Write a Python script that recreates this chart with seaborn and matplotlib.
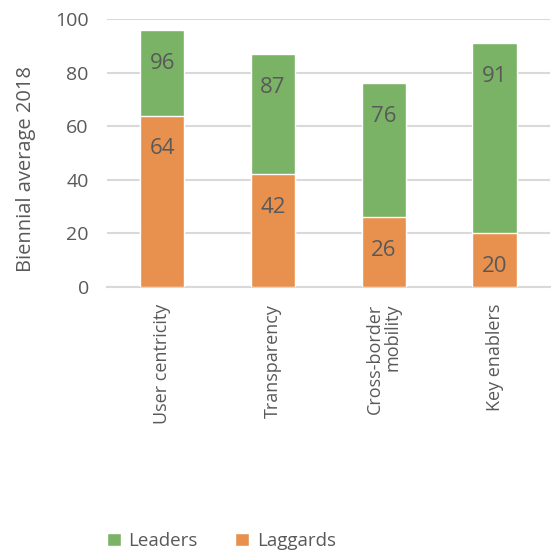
import numpy as np
import pandas as pd
import matplotlib
matplotlib.use("Agg")
import matplotlib.pyplot as plt
from matplotlib.patches import Patch
import seaborn as sns

# Data
categories = ["User centricity", "Transparency", "Cross-border\nmobility", "Key enablers"]
leaders = [96, 87, 76, 91]
laggards = [64, 42, 26, 20]

green = "#7bb366"
orange = "#e8914f"
text_grey = "#595959"
grid_grey = "#d9d9d9"

sns.set_theme(style="white")
plt.rcParams["font.family"] = ["Open Sans", "DejaVu Sans"]

df = pd.DataFrame({"category": categories, "Leaders": leaders, "Laggards": laggards})

fig = plt.figure(figsize=(5.51, 5.52), dpi=100)
ax = fig.add_axes([0.194, 0.480, 0.804, 0.4855])

# Leaders drawn behind, laggards overlaid in front (not stacked)
sns.barplot(data=df, x="category", y="Leaders", color=green, width=0.4,
            saturation=1, ax=ax, zorder=2)
sns.barplot(data=df, x="category", y="Laggards", color=orange, width=0.4,
            saturation=1, ax=ax, zorder=3)

for i, (lead, lag) in enumerate(zip(leaders, laggards)):
    ax.annotate(str(lead), (i, lead), xytext=(0, -24), textcoords="offset points",
                ha="center", va="center", fontsize=16, color=text_grey, zorder=4)
    ax.annotate(str(lag), (i, lag), xytext=(0, -24), textcoords="offset points",
                ha="center", va="center", fontsize=16, color=text_grey, zorder=4)

ax.set_ylim(0, 100)
ax.set_yticks(np.arange(0, 101, 20))
ax.set_xlim(-0.5, 3.5)
ax.yaxis.grid(True, color=grid_grey, linewidth=1.5, zorder=0)
ax.set_axisbelow(True)
for side in ["top", "right", "left"]:
    ax.spines[side].set_visible(False)
ax.spines["bottom"].set_color(grid_grey)
ax.spines["bottom"].set_linewidth(1.5)

ax.tick_params(axis="both", length=0, colors=text_grey)
ax.tick_params(axis="y", pad=13, labelsize=14)
ax.tick_params(axis="x", pad=12, labelsize=13)
plt.setp(ax.get_xticklabels(), rotation=90, ha="center", va="top",
         multialignment="right", linespacing=1.0)

ax.set_xlabel("")
ax.set_ylabel("Biennial average 2018", fontsize=14.5, color=text_grey)
ax.yaxis.set_label_coords(-0.160, 0.44)

handles = [Patch(facecolor=green, label="Leaders"),
           Patch(facecolor=orange, label="Laggards")]
fig.legend(handles=handles, loc="lower left", bbox_to_anchor=(0.163, -0.027),
           ncol=2, frameon=False, fontsize=13.5, handlelength=0.75,
           handleheight=0.75, handletextpad=0.4, columnspacing=2.0,
           labelcolor=text_grey)

fig.savefig("out.png", dpi=100)
